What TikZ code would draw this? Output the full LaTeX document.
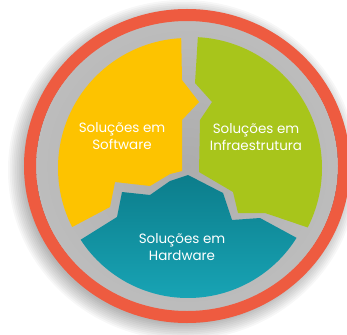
\documentclass[tikz,border=0pt]{standalone}
\usepackage{fontspec}
\setmainfont{Poppins}
\usetikzlibrary{calc,positioning}
\definecolor{ringred}{RGB}{238,91,64}
\definecolor{swyellow}{RGB}{253,195,0}
\definecolor{infragreen}{RGB}{168,197,27}
\definecolor{hwteal}{RGB}{24,164,181}
\definecolor{hwtealdark}{RGB}{12,125,139}
\pgfdeclareradialshading{discshade}{\pgfpoint{0bp}{0bp}}{color(0bp)=(gray!65); color(25bp)=(gray!52); color(41bp)=(gray!28); color(45bp)=(gray!6); color(47bp)=(gray!14); color(50bp)=(gray!35)}

\begin{document}
\begin{tikzpicture}[
    x=0.03cm, y=0.03cm,
    shadow ring/.style={black, opacity=0.03},
    red ring/.style={draw=ringred, line width=0.36cm},
    label text/.style={text=white, align=center, inner sep=0pt,
      font=\fontsize{11.5}{14.5}\selectfont}
  ]
  \useasboundingbox (0,0) rectangle (347,334);
  \fill[white] (0,0) rectangle (347,334);

  % Centres
  \coordinate (C) at (188,166);
  \coordinate (G) at (191,166);
  \coordinate (T) at (188,164);
  \coordinate (R) at (187,168);

  % Shadow, disc and ring
  \foreach \i in {1,...,10}
    \fill[shadow ring] ($(R)+(-4,-4)$) ellipse[x radius=157+\i*1.8, y radius=152+\i*1.8];
  \fill[shading=discshade] (R) ellipse[x radius=151, y radius=146];
  \draw[red ring] (R) ellipse[x radius=157, y radius=151];

  % Pieces
  \fill[swyellow] ($(C)+(93:130)$) arc[start angle=93, end angle=207, radius=130]
    -- (110,127) -- (115,152) -- (150,148) -- (170,160) -- (182,163)
    -- (182,214) -- (199,232) -- (182,254) -- cycle;
  \fill[infragreen] ($(G)+(87:131)$) arc[start angle=87, end angle=-27, radius=131]
    -- (265,121) -- (238,121) -- (233,142) -- (199,162)
    -- (200,214) -- (212,232) -- (195,251) -- cycle;
  \shade[top color=hwtealdark, bottom color=hwteal] ($(T)+(213:128)$)
    arc[start angle=213, end angle=328, radius=128]
    -- (260,116) -- (232,114) -- (223,141) -- (188,159) -- (170,153)
    -- (150,139) -- (122,142) -- (117,117) -- cycle;

  % Labels
  \node[label text] (sw) at (122,198) {Soluções em\\Software};
  \node[label text] (infra) at (256,197) {Soluções em\\Infraestrutura};
  \node[label text] (hw) at (182,87) {Soluções em\\Hardware};
\end{tikzpicture}
\end{document}
